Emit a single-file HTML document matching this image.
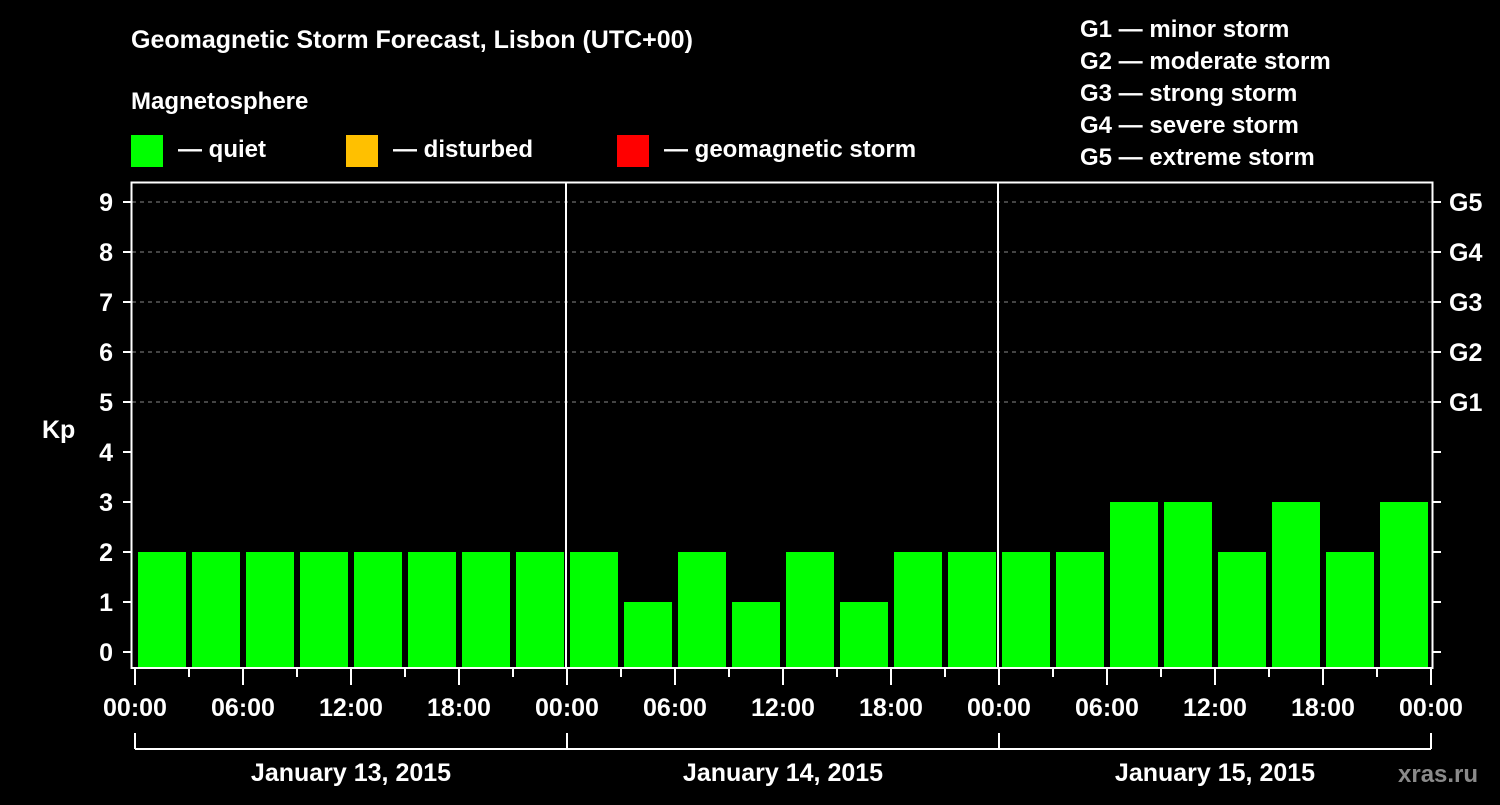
<!DOCTYPE html>
<html><head><meta charset="utf-8"><style>
body{margin:0;background:#000;width:1500px;height:800px;overflow:hidden;font-family:"Liberation Sans",sans-serif}
text{font-family:"Liberation Sans",sans-serif;font-weight:bold;fill:#fff}
</style></head><body>
<svg id="c" width="1500" height="800">
<rect width="1500" height="800" fill="#000"/>
<text x="131" y="48" font-size="25">Geomagnetic Storm Forecast, Lisbon (UTC+00)</text>
<text x="131" y="109" font-size="24">Magnetosphere</text>
<g><rect x="131" y="135" width="32" height="32" fill="#00ff00"/><text x="178" y="157" font-size="24">— quiet</text></g>
<g><rect x="346" y="135" width="32" height="32" fill="#ffc000"/><text x="393" y="157" font-size="24">— disturbed</text></g>
<g><rect x="617" y="135" width="32" height="32" fill="#ff0000"/><text x="664" y="157" font-size="24">— geomagnetic storm</text></g>
<g font-size="24">
<text x="1080" y="37">G1 — minor storm</text>
<text x="1080" y="69">G2 — moderate storm</text>
<text x="1080" y="101">G3 — strong storm</text>
<text x="1080" y="133">G4 — severe storm</text>
<text x="1080" y="165">G5 — extreme storm</text>
</g>
<text x="42" y="438" font-size="25">Kp</text>
<text x="1398" y="782" font-size="24" fill="#888" style="fill:#8a8a8a">xras.ru</text>
<g id="plot"></g>
</svg>
<script>
const kpValues=[2,2,2,2,2,2,2,2, 2,1,2,1,2,1,2,2, 2,2,3,3,2,3,2,3];
const hourLabels=["00:00","06:00","12:00","18:00"];
const dayLabels=["January 13, 2015","January 14, 2015","January 15, 2015"];
const gLabels=["G1","G2","G3","G4","G5"];
const yTicks=[0,1,2,3,4,5,6,7,8,9];
const NS="http://www.w3.org/2000/svg";
const g=document.getElementById('plot');
const X0=135,STEP=54;
function xs(i){return X0+i*STEP;}
function ys(v){return 652-50*v;}
function mk(t,a,p){const e=document.createElementNS(NS,t);for(const k in a)e.setAttribute(k,a[k]);(p||g).appendChild(e);return e;}
// grid
for(let v=5;v<=9;v++){const l=mk('line',{x1:132,x2:1432,y1:ys(v),y2:ys(v),stroke:'#888','stroke-dasharray':'4,4','stroke-width':1});

}
// bars
kpValues.forEach((v,i)=>{const c=v>=5?'#ff0000':(v>=4?'#ffc000':'#00ff00');
const r=mk('rect',{x:xs(i)+3,y:ys(v),width:48,height:668-ys(v),fill:c});

});
// frame
mk('rect',{x:131.5,y:182.5,width:1301,height:485.5,fill:'none',stroke:'#fff','stroke-width':2});
for(let d=1;d<3;d++){const dl=mk('line',{x1:xs(d*8)-1,x2:xs(d*8)-1,y1:182,y2:668,stroke:'#fff','stroke-width':2});

}
// y ticks
yTicks.forEach(v=>{mk('line',{x1:123,x2:131,y1:ys(v),y2:ys(v),stroke:'#fff','stroke-width':2});
mk('line',{x1:1433,x2:1441,y1:ys(v),y2:ys(v),stroke:'#fff','stroke-width':2});
const t=mk('text',{x:113,y:ys(v)+9,'font-size':25,'text-anchor':'end'});t.textContent=v;

});
gLabels.forEach((s,i)=>{const t=mk('text',{x:1449,y:ys(5+i)+9,'font-size':25});t.textContent=s;

});
// x ticks
for(let i=0;i<=24;i++){const major=i%2===0;
mk('line',{x1:xs(i),x2:xs(i),y1:669,y2:major?685:677,stroke:'#fff','stroke-width':2});
if(major){const t=mk('text',{x:xs(i),y:716,'font-size':25,'text-anchor':'middle'});t.textContent=hourLabels[(i/2)%4];

}}
// day brackets
mk('line',{x1:xs(0),x2:xs(24),y1:749,y2:749,stroke:'#fff','stroke-width':2});
for(let d=0;d<=3;d++)mk('line',{x1:xs(d*8),x2:xs(d*8),y1:733,y2:749,stroke:'#fff','stroke-width':2});
dayLabels.forEach((s,d)=>{const t=mk('text',{x:(xs(d*8)+xs(d*8+8))/2,y:781,'font-size':25,'text-anchor':'middle'});t.textContent=s;

});
</script>
</body></html>
